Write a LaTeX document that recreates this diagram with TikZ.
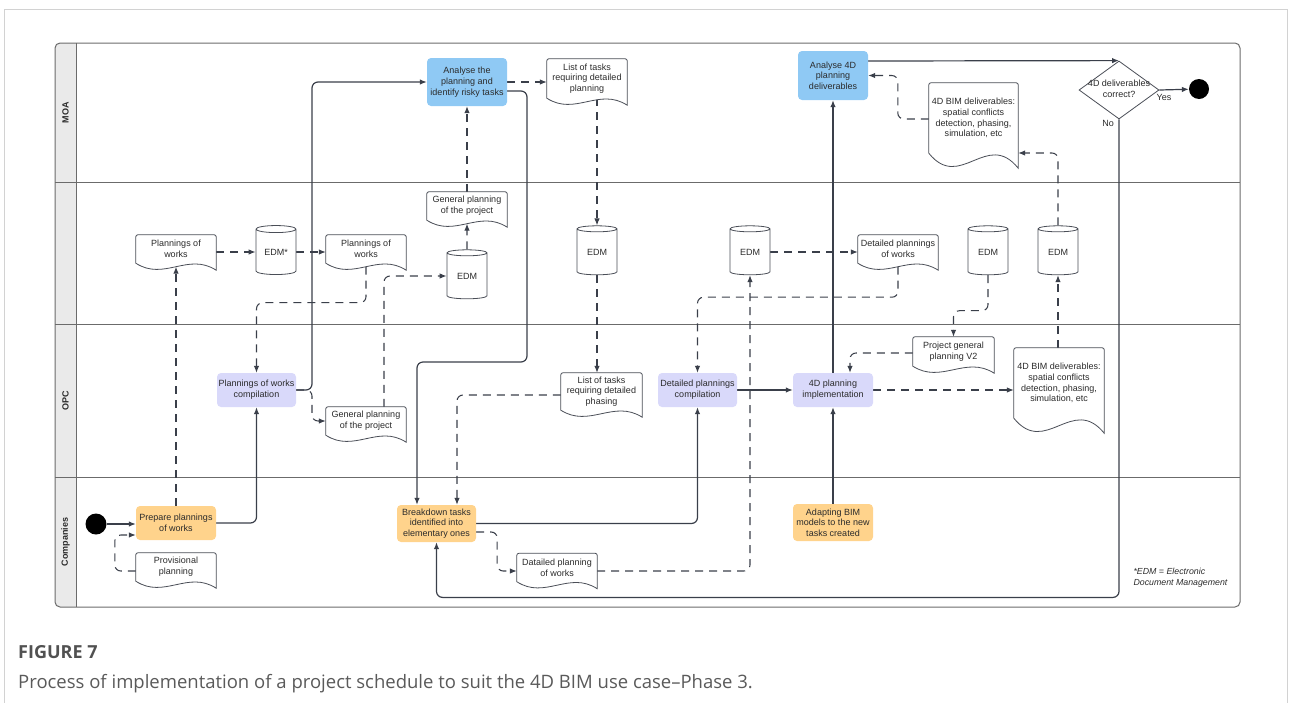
\documentclass[tikz,border=0pt]{standalone}
\usepackage{fontspec}
\setmainfont{Liberation Sans}
\newfontfamily\capfont{Open Sans}
\usetikzlibrary{arrows.meta,shapes.geometric,calc}
\definecolor{moablue}{HTML}{8FC9F4}
\definecolor{opcpurple}{HTML}{D9D9FA}
\definecolor{comorange}{HTML}{FFD38C}
\definecolor{flowgray}{HTML}{3A3F4A}
\definecolor{docedge}{HTML}{4A4E57}
\definecolor{txtgray}{HTML}{2B2B2B}
\definecolor{lanegray}{HTML}{EAEAEA}
\definecolor{framegray}{HTML}{6B6B6B}
\definecolor{capgray}{HTML}{5A5A5A}
\pgfdeclarelayer{frame}
\pgfdeclarelayer{links}
\pgfdeclarelayer{docs}
\pgfsetlayers{frame,links,docs,main}

% document outline under a node: #1 node, #2 wave depth
\newcommand{\docwave}[2]{%
  \begin{pgfonlayer}{docs}
  \draw[docline] (#1.south west) -- ([yshift=-2pt]#1.north west)
    arc[start angle=180,end angle=90,radius=2pt] -- ([xshift=-2pt]#1.north east)
    arc[start angle=90,end angle=0,radius=2pt] -- ([yshift=-#2]#1.south east)
    .. controls ($(#1.south west)!0.65!(#1.south east)+(0pt,1.6*#2)$)
    and ($(#1.south west)!0.35!(#1.south east)+(0pt,-2.6*#2)$) .. cycle;
  \end{pgfonlayer}}

\begin{document}
\begin{tikzpicture}[x=1pt,y=-1pt,
  every node/.style={font=\fontsize{9}{10.7}\selectfont, text=txtgray},
  task/.style={rounded corners=4pt, inner sep=0pt, minimum width=80, minimum height=34, align=center},
  moatask/.style={task, fill=moablue},
  opctask/.style={task, fill=opcpurple},
  comtask/.style={task, fill=comorange},
  docnode/.style={inner sep=0pt, minimum width=80, minimum height=28, align=center},
  edm/.style={cylinder, shape border rotate=90, aspect=0.3, draw=docedge, fill=white, line width=0.8pt, minimum width=40, minimum height=49, inner sep=0pt},
  docline/.style={draw=docedge, line width=0.8pt, fill=white},
  flow/.style={flowgray, line width=1.2pt, rounded corners=6pt, -{Latex[length=7pt,width=5.5pt]}},
  dflow/.style={flow, line width=1.05pt, dash pattern=on 8pt off 6pt},
  lanelabel/.style={rotate=90, font=\fontsize{9}{10.7}\selectfont\bfseries},
]
\useasboundingbox (0,0) rectangle (1290,702);

% frame and lanes
\begin{pgfonlayer}{frame}
  \draw[gray!35, line width=0.8pt] (4,720) -- (4,9) -- (1287,9) -- (1287,720);
  \fill[lanegray, rounded corners=5pt] (55,43) rectangle (76,607);
  \fill[lanegray] (70,43) rectangle (76,607);
  \draw[framegray, line width=1pt, rounded corners=5pt] (55,43) rectangle (1240,607);
  \draw[framegray, line width=1pt] (76,43) -- (76,607);
  \foreach \ly in {182,324,477}
    \draw[framegray, line width=1pt] (55,\ly) -- (1240,\ly);
\end{pgfonlayer}
\node[lanelabel] (moa) at (65.5,112.5) {MOA};
\node[lanelabel] (opc) at (65.5,400.5) {OPC};
\node[lanelabel] (companies) at (65.5,542) {Companies};

% MOA
\node[moatask, minimum height=48] (ana1) at (467,82) {Analyse the\\planning and\\identify risky tasks};
\node[docnode, minimum height=39] (ltp) at (587,78.5) {List of tasks\\requiring detailed\\planning};
\node[moatask, minimum width=70, minimum height=49] (ana4) at (833,75.5) {Analyse 4D\\planning\\deliverables};
\node[docnode, minimum width=89, minimum height=70] (bim1) at (973.5,118) {4D BIM deliverables:\\spatial conflicts\\detection, phasing,\\simulation, etc};
\node[diamond, draw=docedge, line width=0.8pt, fill=white, minimum width=80, minimum height=58, inner sep=0pt] (dec) at (1119,90) {};
\node[align=center] (dectxt) at (1119,89) {4D deliverables\\correct?};
\node[circle, fill=black, minimum size=20, inner sep=0pt] (stop) at (1199,89) {};
\node (yes) at (1164,97) {Yes};
\node (no) at (1108,123) {No};

% second lane
\node[docnode] (pw1) at (176,249) {Plannings of\\works};
\node[edm] (edm1) at (276,252) {EDM*};
\node[docnode] (pw2) at (366,249) {Plannings of\\works};
\node[docnode] (gp1) at (467,206) {General planning\\of the project};
\node[edm] (edm2) at (467,276) {EDM};
\node[edm] (edm3) at (597,252) {EDM};
\node[edm] (edm4) at (750,252) {EDM};
\node[docnode] (dpw) at (898,249) {Detailed plannings\\of works};
\node[edm] (edm5) at (988,252) {EDM};
\node[edm] (edm6) at (1058,252) {EDM};

% OPC
\node[opctask, minimum width=79] (pwc) at (256.5,390) {Plannings of works\\compilation};
\node[docnode] (gp2) at (366,421) {General planning\\of the project};
\node[docnode, minimum width=81, minimum height=37] (ltph) at (601.5,391.5) {List of tasks\\requiring detailed\\phasing};
\node[opctask, minimum width=79] (dpc) at (697.5,390) {Detailed plannings\\compilation};
\node[opctask] (impl) at (833,390) {4D planning\\implementation};
\node[docnode, minimum width=81, minimum height=29] (pgv2) at (953.5,351.5) {Project general\\planning V2};
\node[docnode, minimum width=90, minimum height=70] (bim2) at (1059,383) {4D BIM deliverables:\\spatial conflicts\\detection, phasing,\\simulation, etc};

% Companies
\node[circle, fill=black, minimum size=21, inner sep=0pt] (start) at (96,524) {};
\node[comtask] (prep) at (176,523) {Prepare plannings\\of works};
\node[docnode] (prov) at (176,567) {Provisional\\planning};
\node[comtask, minimum width=79, minimum height=37] (brk) at (436.5,523.5) {Breakdown tasks\\identified into\\elementary ones};
\node[docnode] (dpw2) at (557,567.5) {Datailed planning\\of works};
\node[comtask, minimum height=37] (adapt) at (833,522.5) {Adapting BIM\\models to the new\\tasks created};
\node[anchor=west, align=left, font=\fontsize{8.8}{11}\selectfont\itshape] (note) at (1130,577.5) {*EDM = Electronic\\Document Management};

\docwave{pw1}{7pt}
\docwave{pw2}{7pt}
\docwave{gp1}{7pt}
\docwave{ltp}{7pt}
\docwave{dpw}{7pt}
\docwave{bim1}{15pt}
\docwave{gp2}{7pt}
\docwave{ltph}{7pt}
\docwave{pgv2}{7pt}
\docwave{bim2}{15pt}
\docwave{prov}{7pt}
\docwave{dpw2}{7pt}

\coordinate (j1) at (312,390);
\coordinate (j2) at (527,362);

\begin{pgfonlayer}{links}
  \draw[flow] (start) -- (start -| prep.west);
  \draw[flow] (prep.east) -| (pwc.south);
  \draw[dflow] (prep.north) -- ([yshift=-3.5pt]pw1.south);
  \draw[dflow] ([yshift=-4pt]prov.west) -- ++(-21pt,0pt) |- ([yshift=-12pt]prep.west);
  \draw[dflow] (pw1.east |- edm1.west) -- (edm1.west);
  \draw[dflow] (edm1.east) -- (edm1.east -| pw2.west);
  \draw[dflow] ([yshift=-3.5pt]pw2.south) -- ++(0pt,-36pt) -| (pwc.north);
  \draw[dflow] (pwc.east) -- (j1) |- (gp2.west);
  \draw[flow] (pwc.east) -- (j1) |- (ana1.west);
  \draw[dflow] ([xshift=18pt]gp2.north) |- (edm2.west);
  \draw[dflow] (edm2.north) -- ([yshift=-3.5pt]gp1.south);
  \draw[dflow] (gp1.north) -- (ana1.south);
  \draw[dflow] (ana1.east) -- (ana1.east -| ltp.west);
  \draw[flow] ([yshift=-9pt]ana1.east) -| (j2) -| ([xshift=-19.5pt]brk.north);
  \draw[dflow] (ltp.south -| edm3.north) -- (edm3.north);
  \draw[dflow] (edm3.south) -- (edm3.south |- ltph.north);
  \draw[dflow] ([yshift=-3.5pt]ltph.west) -| ([xshift=20.5pt]brk.north);
  \draw[flow] (brk.east) -| (dpc.south);
  \draw[dflow] ([yshift=-8.5pt]brk.east) -- ++(21pt,0pt) |- ([yshift=-3.5pt]dpw2.west);
  \draw[dflow] ([yshift=-3.5pt]dpw2.east) -| (edm4.south);
  \draw[dflow] (edm4.east) -- (edm4.east -| dpw.west);
  \draw[dflow] ([yshift=-3.5pt]dpw.south) -- ++(0pt,-30.5pt) -| (dpc.north);
  \draw[flow] (dpc.east) -- (impl.west);
  \draw[flow] (adapt.north) -- (impl.south);
  \draw[flow] (impl.north) -- (ana4.south);
  \draw[dflow] (edm5.south) -- ++(0pt,-35.5pt) -| (pgv2.north);
  \draw[dflow] ([yshift=-1.5pt]pgv2.west) -| ([xshift=17pt]impl.north);
  \draw[dflow] (impl.east) -- (impl.east -| bim2.west);
  \draw[dflow] (edm6.south |- bim2.north) -- (edm6.south);
  \draw[dflow] (edm6.north) |- ([yshift=-35pt]bim1.east);
  \draw[dflow] ([yshift=-1pt]bim1.west) -- ++(-31pt,0pt) |- (ana4.east);
  \draw[flow] ([yshift=14.5pt]ana4.east) -- (dec.north);
  \draw[flow] (dec.east) -- (stop);
  \draw[flow] (dec.south) -- ++(0pt,-478pt) -| (brk.south);
\end{pgfonlayer}

% caption
\node[anchor=west, inner sep=0pt, font=\capfont\bfseries\fontsize{18}{20}\selectfont, text=capgray!90!black] (fig) at (18,652) {FIGURE 7};
\node[anchor=west, inner sep=0pt, font=\capfont\fontsize{18.5}{20}\selectfont, text=capgray] (caption) at (18,684) {Process of implementation of a project schedule to suit the 4D BIM use case–Phase 3.};
\end{tikzpicture}
\end{document}
